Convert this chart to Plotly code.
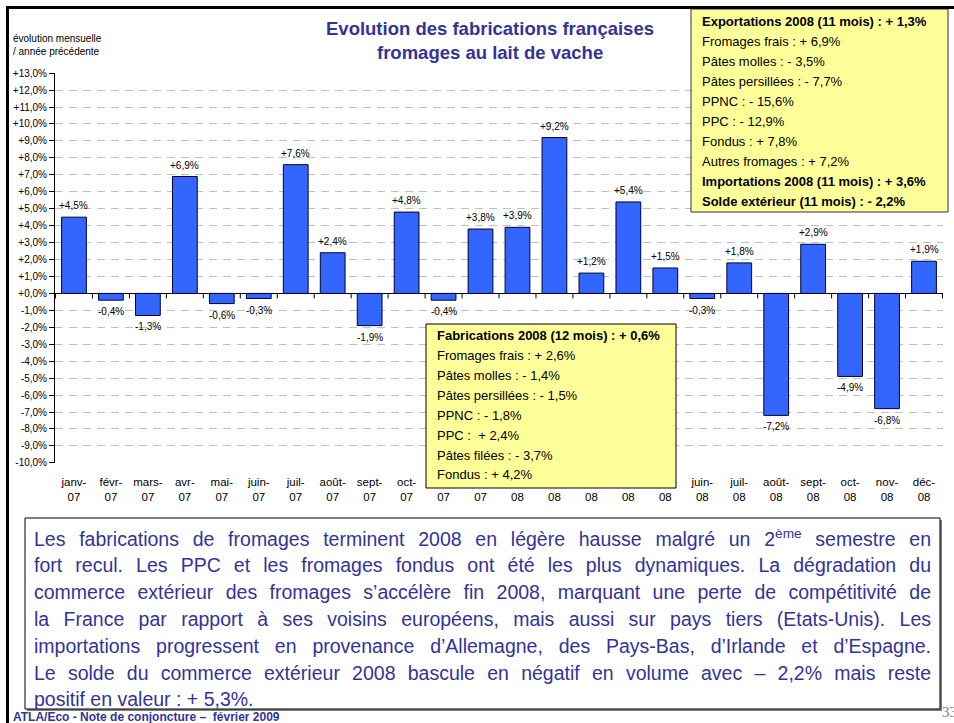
import plotly.graph_objects as go

# ---------------- data ----------------
categories = ["janv-<br>07", "févr-<br>07", "mars-<br>07", "avr-<br>07", "mai-<br>07", "juin-<br>07",
              "juil-<br>07", "août-<br>07", "sept-<br>07", "oct-<br>07", "nov-<br>07", "déc-<br>07",
              "janv-<br>08", "févr-<br>08", "mars-<br>08", "avr-<br>08", "mai-<br>08", "juin-<br>08",
              "juil-<br>08", "août-<br>08", "sept-<br>08", "oct-<br>08", "nov-<br>08", "déc-<br>08"]
values = [4.5, -0.4, -1.3, 6.9, -0.6, -0.3, 7.6, 2.4, -1.9, 4.8, -0.4, 3.8,
          3.9, 9.2, 1.2, 5.4, 1.5, -0.3, 1.8, -7.2, 2.9, -4.9, -6.8, 1.9]
y_ticks = list(range(-10, 14))
y_ticktext = [("%+.1f%%" % v).replace(".", ",") for v in y_ticks]
bar_labels = [("%+.1f%%" % v).replace(".", ",") for v in values]

title_lines = ["Evolution des fabrications françaises", "fromages au lait de vache"]
axis_title_lines = ["évolution mensuelle", "/ année précédente"]

trade_lines = [("Exportations 2008 (11 mois) : + 1,3%", True),
               ("Fromages frais : + 6,9%", False),
               ("Pâtes molles : - 3,5%", False),
               ("Pâtes persillées : - 7,7%", False),
               ("PPNC : - 15,6%", False),
               ("PPC : - 12,9%", False),
               ("Fondus : + 7,8%", False),
               ("Autres fromages : + 7,2%", False),
               ("Importations 2008 (11 mois) : + 3,6%", True),
               ("Solde extérieur (11 mois) : - 2,2%", True)]

fab_lines = [("Fabrications 2008 (12 mois) : + 0,6%", True),
             ("Fromages frais : + 2,6%", False),
             ("Pâtes molles : - 1,4%", False),
             ("Pâtes persillées : - 1,5%", False),
             ("PPNC : - 1,8%", False),
             ("PPC :  + 2,4%", False),
             ("Pâtes filées : - 3,7%", False),
             ("Fondus : + 4,2%", False)]

comment_lines = [
    "Les fabrications de fromages terminent 2008 en légère hausse malgré un 2<sup>ème</sup> semestre en",
    "fort recul. Les PPC et les fromages fondus ont été les plus dynamiques. La dégradation du",
    "commerce extérieur des fromages s’accélère fin 2008, marquant une perte de compétitivité de",
    "la France par rapport à ses voisins européens, mais aussi sur pays tiers (Etats-Unis). Les",
    "importations progressent en provenance d’Allemagne, des Pays-Bas, d’Irlande et d’Espagne.",
    "Le solde du commerce extérieur 2008 bascule en négatif en volume avec – 2,2% mais reste",
    "positif en valeur : + 5,3%.",
]
footer_text = "ATLA/Eco - Note de conjoncture –  février 2009"
page_number = "33"

# ---------------- layout geometry ----------------
W, H = 954, 723
L, R, T, B = 55, 943, 73, 463
YMIN, YMAX = -10.01, 13.01
FONT = "Liberation Sans, Arial, sans-serif"
NAVY = "#333399"


def px(x):
    return (x - L) / (R - L)


def py(y):
    return (B - y) / (B - T)


annotations = []
shapes = []


def txt(x, y, text, size, color="black", bold=False, xanchor="left", yanchor="middle", family=FONT):
    annotations.append(dict(
        x=px(x), y=py(y), xref="paper", yref="paper", text=text, showarrow=False,
        xanchor=xanchor, yanchor=yanchor, align=xanchor if xanchor != "center" else "center",
        font=dict(size=size, color=color, family=family, weight="bold" if bold else "normal"),
        borderpad=0,
    ))
    return len(annotations) - 1


fig = go.Figure()
fig.add_trace(go.Bar(
    x=categories, y=values, width=0.67,
    marker=dict(color="#3366FF", line=dict(color="#000033", width=1)),
    hoverinfo="skip",
))

# bar value labels
for c, v, lab in zip(categories, values, bar_labels):
    annotations.append(dict(
        x=c, y=v, xref="x", yref="y", text=lab, showarrow=False,
        yanchor="bottom" if v >= 0 else "top", yshift=5 if v >= 0 else -5,
        font=dict(size=10, color="black", family=FONT), borderpad=0,
    ))

# tick marks on the zero line between categories
unit_px = (B - T) / (YMAX - YMIN)
for i in range(len(categories) + 1):
    shapes.append(dict(type="line", xref="x", yref="y", x0=i - 0.5, x1=i - 0.5,
                       y0=0, y1=-5 / unit_px, line=dict(color="black", width=1)))

# title and axis title
txt(490, 29, title_lines[0], 18.5, NAVY, True, "center")
txt(490, 53, title_lines[1], 18.5, NAVY, True, "center")
txt(12, 38, axis_title_lines[0], 10)
txt(12, 52, axis_title_lines[1], 10)

# trade box (top right)
shapes.append(dict(type="rect", xref="paper", yref="paper", x0=px(691), x1=px(948), y0=py(9), y1=py(212),
                   fillcolor="#FFFF99", line=dict(color="#333333", width=1), layer="above"))
for i, (t, b) in enumerate(trade_lines):
    txt(701, 21.5 + 20 * i, t, 13, "black", b)

# fabrication box (middle)
shapes.append(dict(type="rect", xref="paper", yref="paper", x0=px(426), x1=px(676), y0=py(324), y1=py(488),
                   fillcolor="#FFFF99", line=dict(color="black", width=1), layer="above"))
for i, (t, b) in enumerate(fab_lines):
    txt(436, 335 + 20 * i, t, 13, "black", b)

# comment box (bottom) with a soft shadow
shapes.append(dict(type="rect", xref="paper", yref="paper", x0=px(27), x1=px(942), y0=py(520), y1=py(711),
                   fillcolor="#808080", line=dict(width=0), layer="above"))
shapes.append(dict(type="rect", xref="paper", yref="paper", x0=px(25), x1=px(940), y0=py(518), y1=py(709),
                   fillcolor="white", line=dict(color="black", width=1), layer="above"))
just_idx = []
for i, t in enumerate(comment_lines):
    k = txt(33, 538 + 26.9 * i, t, 19.5, NAVY)
    if i < len(comment_lines) - 1:
        just_idx.append(k)

# footer
txt(12, 717, footer_text, 12, NAVY, True, family="Liberation Sans Narrow, Arial Narrow, Liberation Sans, sans-serif")
txt(941, 712, page_number, 15, "#7F7F7F", family="Liberation Serif, Times New Roman, serif")

# page frame (thick black left/top borders)
shapes.append(dict(type="line", xref="paper", yref="paper", x0=px(7.5), x1=px(7.5), y0=py(6), y1=py(723),
                   line=dict(color="black", width=3), layer="above"))
shapes.append(dict(type="line", xref="paper", yref="paper", x0=px(6), x1=px(954), y0=py(7.5), y1=py(7.5),
                   line=dict(color="black", width=3), layer="above"))

fig.update_layout(
    width=W, height=H,
    margin=dict(l=L, r=W - R, t=T, b=H - B),
    paper_bgcolor="white", plot_bgcolor="white",
    showlegend=False,
    font=dict(family=FONT, color="black"),
    xaxis=dict(
        type="category", showgrid=False, zeroline=False, showline=False,
        ticks="outside", ticklen=8, tickcolor="rgba(0,0,0,0)",
        tickfont=dict(size=11.5, color="black", family=FONT),
        tickangle=0, fixedrange=True,
    ),
    yaxis=dict(
        range=[YMIN, YMAX], tickvals=y_ticks, ticktext=y_ticktext,
        tickfont=dict(size=10, color="black", family=FONT),
        ticks="outside", ticklen=5, tickcolor="black", tickwidth=1,
        showline=True, linecolor="black", linewidth=1,
        showgrid=True, gridcolor="#C0C0C0", gridwidth=1, griddash="8px,6px",
        zeroline=True, zerolinecolor="black", zerolinewidth=1, fixedrange=True,
    ),
    annotations=annotations,
    shapes=shapes,
)

post = """
document.body.style.margin = '0';
document.body.style.padding = '0';
var gd = document.getElementById('{plot_id}');
var idx = %s;
var target = 897;
idx.forEach(function(i){
  var t = gd.querySelector('.annotation[data-index="' + i + '"] text.annotation-text');
  if (!t) return;
  var len = t.getComputedTextLength();
  var s = (t.textContent.match(/ /g) || []).length;
  if (len < target) {
    if (s > 0) t.style.wordSpacing = ((target - len) / s) + 'px';
  } else {
    t.setAttribute('textLength', target);
    t.setAttribute('lengthAdjust', 'spacingAndGlyphs');
  }
});
""" % str(just_idx)

fig.write_html("out.html", post_script=post, config={"displayModeBar": False})
